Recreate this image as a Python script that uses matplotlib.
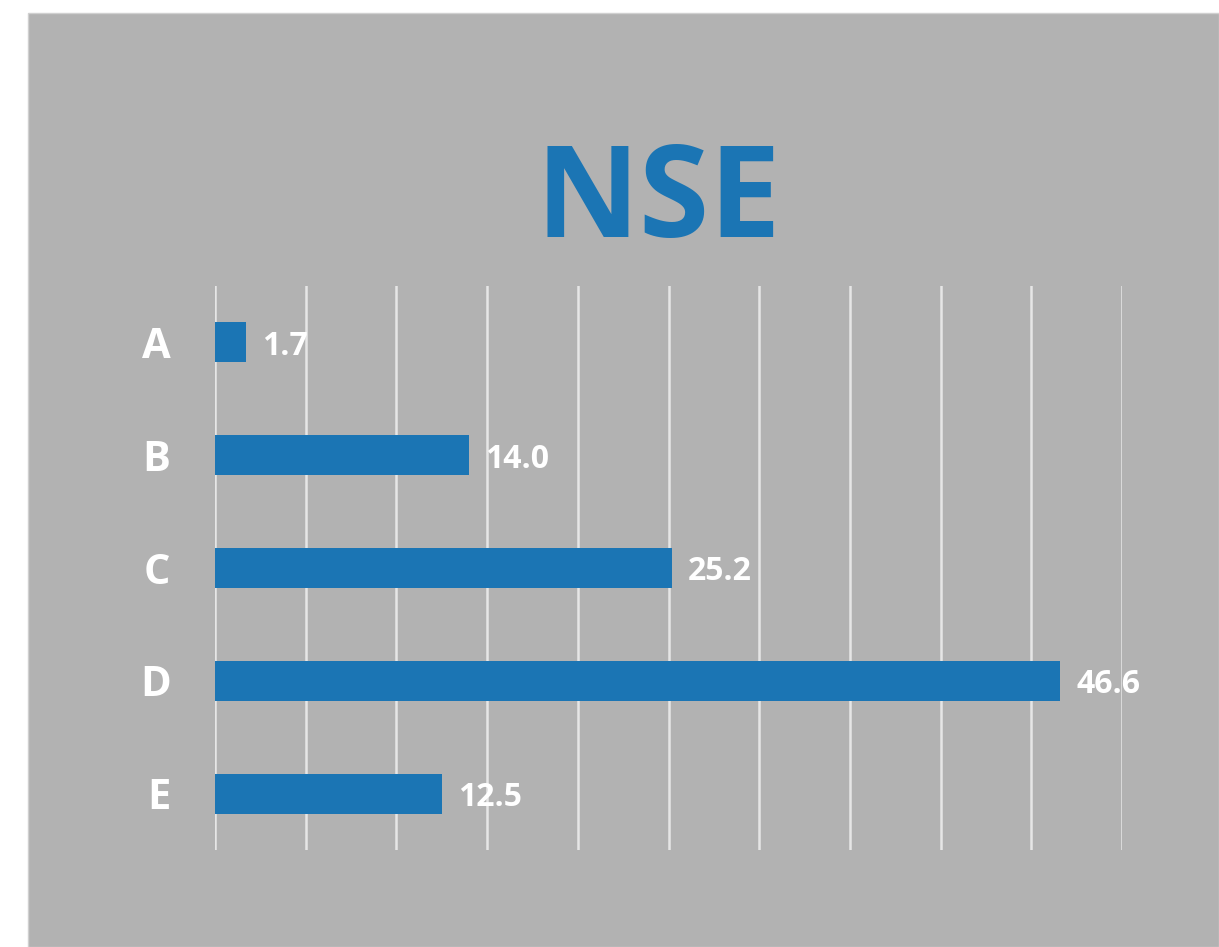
import matplotlib.pyplot as plt
from matplotlib.patches import Rectangle

categories = ['A', 'B', 'C', 'D', 'E']
values = [1.7, 14.0, 25.2, 46.6, 12.5]

gray = '#b2b2b2'
blue = '#1b75b4'
plt.rcParams['font.family'] = ['Open Sans', 'DejaVu Sans']

W, H = 1219, 947
fig = plt.figure(figsize=(W / 100, H / 100), dpi=100)
fig.patch.set_facecolor('white')

# grey panel behind the chart
fig.patches.append(Rectangle((28 / W, 0), 1 - 28 / W, 1 - 13 / H,
                             transform=fig.transFigure, facecolor=gray,
                             edgecolor='#d0d0d0', linewidth=1, zorder=-1))

ax = fig.add_axes([215 / W, 1 - 850 / H, (1122 - 215) / W, (850 - 286) / H])
ax.set_zorder(2)
ax.set_facecolor('none')

ypos = list(range(len(categories)))
ax.barh(ypos, values, height=0.354, color=blue, zorder=3)
ax.set_xlim(0, 50)
ax.set_ylim(len(categories) - 0.5, -0.5)
ax.set_xticks(range(0, 51, 5))
ax.xaxis.grid(True, color='#e6e6e6', linewidth=1.8, zorder=1)
ax.set_axisbelow(True)
ax.tick_params(axis='x', length=0, labelbottom=False)
ax.tick_params(axis='y', length=0, pad=32)
ax.set_yticks(ypos)
ax.set_yticklabels(categories, fontsize=30, fontweight='bold', color='white')
for s in ax.spines.values():
    s.set_visible(False)

for y, v in zip(ypos, values):
    ax.annotate(f'{v:.1f}', (v, y), xytext=(16, -4), textcoords='offset pixels',
                va='center', ha='left', fontsize=23, fontweight='bold',
                color='white', zorder=4)

fig.text(658 / W, 1 - 204 / H, 'NSE', ha='center', va='center',
         fontsize=92, fontweight='bold', color=blue)

fig.savefig('out.png', dpi=100)
